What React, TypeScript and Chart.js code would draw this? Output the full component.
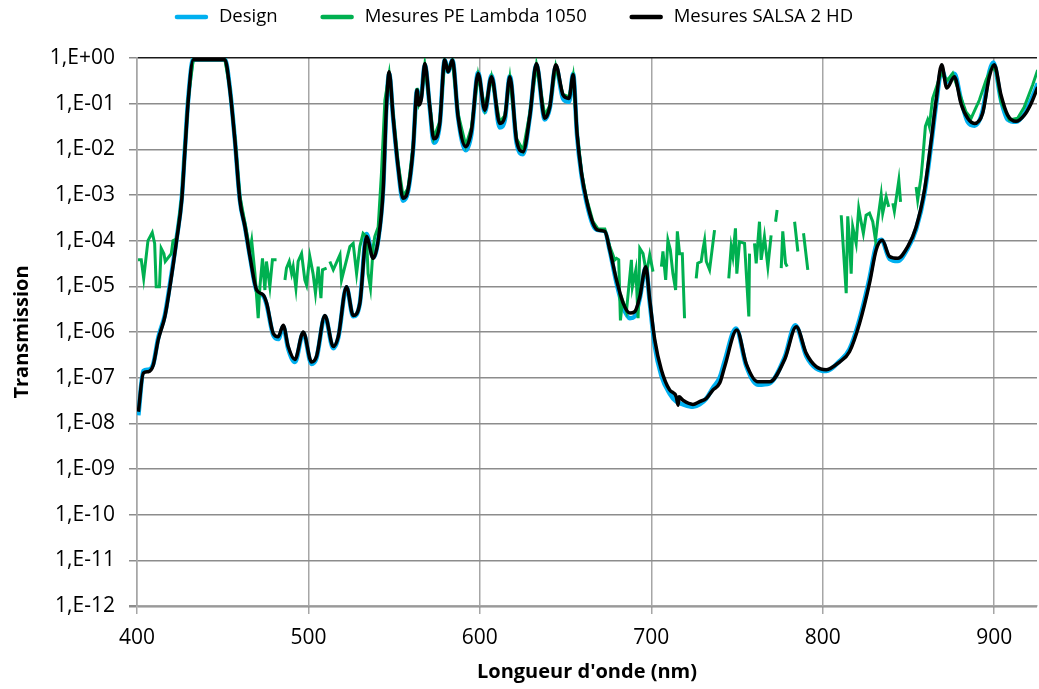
import React, { useEffect, useRef } from "react";
import { Chart, registerables } from "chart.js";

Chart.register(...registerables);

// ---- Data (wavelength in nm, transmission) ----
const designWl = [400.8, 403.7, 406.6, 409.5, 412.4, 416.3, 419.2, 423.1, 426.1, 428.0, 429.9, 432.8, 440, 451.3, 454.2, 457.1, 460.0, 463.0, 465.9, 469.8, 473.6, 475.6, 479.5, 482.4, 485.3, 488.2, 492.1, 497.0, 501.8, 504.7, 509.6, 514.5, 517.4, 522.2, 526.1, 530.0, 533.9, 537.8, 540.7, 543.6, 545.5, 547.1, 549.4, 552.3, 555.2, 558.1, 561.0, 563.4, 564.5, 565.9, 567.9, 570.8, 573.1, 576.6, 579.5, 581.5, 584.0, 587.3, 591.8, 595.1, 599.0, 602.9, 606.8, 611.6, 614.6, 617.5, 621.4, 625.2, 629.1, 633.0, 637.9, 640.8, 644.3, 648.5, 652.0, 654.4, 656.7, 659.3, 662.2, 666.0, 669.0, 672.9, 675.8, 679.7, 683.6, 687.5, 690.4, 693.3, 696.8, 699.1, 702.0, 705.9, 710.7, 714.6, 718.5, 724.3, 728.2, 732.1, 736.0, 739.9, 742.8, 749.4, 755.4, 762.2, 769.0, 777.8, 784.0, 790.4, 796.2, 802.1, 809.8, 815.6, 821.5, 827.3, 831.2, 834.2, 839.0, 843.8, 849.6, 854.5, 859.4, 863.3, 866.2, 869.4, 872.4, 876.8, 880.7, 884.6, 888.5, 893.3, 897.2, 899.5, 904.0, 907.9, 912.8, 917.6, 921.5, 925.4];
const designT = [1.5e-8, 1.4e-7, 1.5e-7, 2.0e-7, 7.5e-7, 2.4e-6, 1.1e-5, 1.1e-4, 8.5e-4, 0.011, 0.13, 0.93, 0.93, 0.93, 0.21, 0.016, 7.8e-4, 2.0e-4, 4.5e-5, 8.0e-6, 6.2e-6, 4.0e-6, 8.5e-7, 7.0e-7, 1.3e-6, 4.3e-7, 2.2e-7, 9.5e-7, 2.0e-7, 2.7e-7, 2.2e-6, 4.4e-7, 7.5e-7, 9.5e-6, 2.2e-6, 4.3e-6, 1.4e-4, 4.3e-5, 1.05e-4, 1.4e-3, 0.09, 0.45, 0.05, 4.0e-3, 7.5e-4, 1.2e-3, 9.5e-3, 0.2, 0.1, 0.15, 0.7, 0.08, 0.014, 0.035, 0.9, 0.5, 0.9, 0.05, 0.0095, 0.022, 0.48, 0.065, 0.42, 0.03, 0.045, 0.4, 0.014, 7.8e-3, 0.05, 0.7, 0.045, 0.08, 0.65, 0.13, 0.11, 0.45, 0.02, 2.7e-3, 7.0e-4, 2.2e-4, 1.7e-4, 1.6e-4, 6.0e-5, 1.2e-5, 3.5e-6, 2.0e-6, 2.2e-6, 5.5e-6, 2.6e-5, 4.5e-6, 5.0e-7, 1.1e-7, 4.5e-8, 3.0e-8, 2.6e-8, 2.3e-8, 2.6e-8, 3.5e-8, 6.0e-8, 1.0e-7, 2.3e-7, 1.2e-6, 1.8e-7, 7.0e-8, 7.5e-8, 2.8e-7, 1.4e-6, 3.0e-7, 1.6e-7, 1.4e-7, 2.3e-7, 4.2e-7, 1.9e-6, 1.5e-5, 8.0e-5, 1.05e-4, 4.0e-5, 3.6e-5, 6.8e-5, 1.8e-4, 1.1e-3, 0.013, 0.1, 0.55, 0.3, 0.45, 0.12, 0.04, 0.033, 0.07, 0.5, 0.8, 0.12, 0.045, 0.04, 0.06, 0.12, 0.28];

const lambdaWl = [400.6, 402.5, 403.9, 406.4, 408.9, 410.3, 411.2, 413.1, 414.1, 415.7, 416.5, 420.0, 421.0, 423.1, 426.1, 428.0, 429.9, 432.8, 440, 451.3, 454.2, 457.1, 460.0, 463.0, 465.9, 466.9, 468.8, 470.7, 471.7, 473.2, 474.6, 475.5, 477.5, 479.0, 481.4, 483.5, 486.3, 487.2, 488.8, 490.2, 491.1, 492.7, 494.0, 496.0, 497.9, 498.9, 500.8, 502.7, 504.1, 505.7, 507.3, 508.2, 510.6, 511.5, 512.5, 514.5, 518.4, 519.3, 524.2, 526.1, 528.1, 530.0, 531.9, 533.9, 534.8, 536.2, 537.8, 538.7, 540.7, 542.6, 544.6, 547.1, 549.4, 552.3, 555.2, 558.1, 561.0, 563.4, 564.5, 565.9, 567.9, 570.8, 573.1, 576.6, 579.5, 581.5, 584.0, 587.3, 591.8, 595.1, 599.0, 602.9, 606.8, 611.6, 614.6, 617.5, 621.4, 625.2, 629.1, 633.0, 637.9, 640.8, 644.3, 648.5, 652.0, 654.4, 656.7, 659.3, 662.2, 666.0, 669.0, 672.9, 675.8, 678.7, 679.7, 681.0, 682.0, 683.2, 685.5, 688.4, 689.0, 691.0, 692.3, 693.3, 695.2, 697.2, 699.1, 701.0, 703.5, 705.9, 706.8, 708.4, 709.7, 711.1, 712.6, 714.2, 715.2, 716.5, 718.1, 719.4, 722.8, 726.2, 727.1, 729.1, 730.1, 731.1, 732.1, 734.0, 736.9, 741.0, 745.2, 746.6, 747.6, 749.1, 749.9, 751.5, 754.4, 756.9, 757.3, 758.8, 760.2, 761.2, 763.1, 764.1, 766.0, 768.0, 769.9, 771.2, 772.5, 773.4, 774.6, 775.8, 776.7, 778.3, 779.3, 781.5, 783.6, 785.5, 787.2, 788.8, 791.3, 801.0, 810.8, 813.7, 814.6, 815.6, 816.6, 817.5, 819.5, 821.0, 822.4, 823.7, 825.3, 827.3, 829.2, 830.8, 832.1, 834.1, 835.0, 837.0, 838.5, 839.7, 840.9, 841.8, 844.4, 845.4, 850.0, 854.5, 855.4, 857.4, 858.3, 859.9, 861.2, 862.2, 864.1, 867.1, 869.0, 872.9, 875.8, 879.7, 883.6, 886.6, 891.4, 895.3, 898.8, 901.2, 904.0, 908.9, 913.7, 917.6, 922.5, 925.4];
const lambdaT = [3.8e-5, 3.8e-5, 1.5e-5, 1.0e-4, 1.5e-4, 8.7e-5, 9.8e-6, 9.8e-6, 6.8e-5, 5.2e-5, 3.5e-5, 5.2e-5, 1.0e-4, 1.1e-4, 9.0e-4, 0.011, 0.13, 0.91, 0.91, 0.91, 0.22, 0.018, 9.5e-4, 2.4e-4, 6.0e-5, 1.0e-4, 1.9e-5, 2.0e-6, 9.8e-6, 4.1e-5, 8.3e-6, 3.5e-5, 9.8e-6, 3.8e-5, 3.8e-5, null, 1.38e-5, 2.5e-5, 3.5e-5, 1.9e-5, 2.7e-5, 9.1e-6, 3.5e-5, 5.2e-5, 1.38e-5, 1.07e-5, 4.5e-5, 1.9e-5, 7.1e-6, 2.7e-5, 5.5e-6, 2.3e-5, 2.5e-5, null, 3.5e-5, 2.3e-5, 4.9e-5, 1.38e-5, 7.4e-5, 8.7e-5, 1.9e-5, 7.4e-5, 1.45e-4, 1.23e-4, 1.9e-5, 9.1e-6, 7.4e-5, 1.23e-4, 2.0e-4, 3.0e-3, 0.12, 0.45, 0.06, 5.0e-3, 9.5e-4, 1.4e-3, 0.011, 0.22, 0.1, 0.14, 0.7, 0.09, 0.018, 0.04, 0.88, 0.55, 0.88, 0.06, 0.012, 0.03, 0.42, 0.08, 0.38, 0.04, 0.055, 0.36, 0.017, 9.5e-3, 0.06, 0.7, 0.055, 0.09, 0.66, 0.16, 0.14, 0.4, 0.024, 3.2e-3, 8.5e-4, 2.6e-4, 1.8e-4, 1.8e-4, 7.4e-5, 3.8e-5, 4.1e-5, 3.8e-5, 1.8e-6, 5.0e-6, 2.8e-6, 3.8e-5, 9.8e-6, 2.3e-5, 2.0e-6, 6.8e-5, 5.2e-5, 1.9e-5, 4.9e-5, 2.1e-5, null, 2.7e-5, 5.8e-5, 1.38e-5, 1.02e-4, 6.3e-5, 1.9e-5, 8.3e-6, 1.6e-4, 5.2e-5, 5.2e-5, 2.0e-6, null, 1.5e-5, 3.2e-5, 3.5e-5, 6.3e-5, 1.02e-4, 3.5e-5, 2.3e-5, 1.7e-4, null, 1.5e-5, 7.4e-5, 4.5e-5, 1.86e-4, 1.9e-5, 9.5e-5, 8.7e-5, 2.2e-6, 5.2e-5, null, 8.7e-5, 3.2e-5, 2.6e-4, 3.8e-5, 1.23e-4, 2.7e-5, 1.3e-4, null, 2.6e-4, 4.7e-4, null, 2.5e-5, 1.6e-4, 3.2e-5, 2.7e-5, null, 2.6e-4, 5.8e-5, null, 1.45e-4, 2.3e-5, null, 3.6e-4, 7.1e-6, 3.4e-4, 1.02e-4, 1.9e-5, 2.0e-4, 8.7e-5, 5.1e-4, 2.6e-4, 1.45e-4, 3.6e-4, 4.0e-4, 2.6e-4, 1.02e-4, 2.8e-4, 1.0e-3, 4.0e-4, 9.1e-4, 5.5e-4, null, 6.6e-4, 4.4e-4, 2.1e-3, 7.1e-4, null, 1.5e-3, 7.8e-4, 2.5e-3, 5.9e-3, 0.032, 0.044, 0.032, 0.13, 0.28, 0.46, 0.33, 0.46, 0.17, 0.066, 0.048, 0.12, 0.33, 0.65, 0.5, 0.11, 0.044, 0.048, 0.085, 0.26, 0.55];

const salsaWl = [400.8, 403.7, 406.6, 409.5, 412.4, 416.3, 419.2, 423.1, 426.1, 428.0, 429.9, 432.8, 440, 451.3, 454.2, 457.1, 460.0, 463.0, 465.9, 469.8, 473.6, 475.6, 479.5, 482.4, 485.3, 488.2, 492.1, 497.0, 501.8, 504.7, 509.6, 514.5, 517.4, 522.2, 526.1, 530.0, 533.9, 537.8, 540.7, 543.6, 545.5, 547.1, 549.4, 552.3, 555.2, 558.1, 561.0, 563.4, 564.5, 565.9, 567.9, 570.8, 573.1, 576.6, 579.5, 581.5, 584.0, 587.3, 591.8, 595.1, 599.0, 602.9, 606.8, 611.6, 614.6, 617.5, 621.4, 625.2, 629.1, 633.0, 637.9, 640.8, 644.3, 648.5, 652.0, 654.4, 656.7, 659.3, 662.2, 666.0, 669.0, 672.9, 675.8, 679.7, 683.6, 687.5, 690.4, 693.3, 696.8, 699.1, 702.0, 705.9, 710.7, 714.6, 715.6, 716.2, 718.5, 724.3, 728.2, 732.1, 736.0, 739.9, 742.8, 749.9, 755.4, 762.2, 769.0, 777.8, 784.6, 790.4, 796.2, 802.1, 809.8, 815.6, 821.5, 827.3, 831.2, 834.7, 839.0, 843.8, 849.6, 854.5, 859.4, 863.3, 866.2, 869.4, 872.4, 876.8, 880.7, 884.6, 888.5, 893.3, 897.2, 900.1, 904.0, 907.9, 912.8, 917.6, 921.5, 925.4];
const salsaT = [1.8e-8, 1.26e-7, 1.35e-7, 1.9e-7, 6.8e-7, 2.2e-6, 9.8e-6, 1.02e-4, 7.8e-4, 9.8e-3, 0.12, 0.91, 0.92, 0.91, 0.2, 0.0158, 7.8e-4, 2.0e-4, 4.5e-5, 8.3e-6, 6.5e-6, 4.3e-6, 9.3e-7, 7.9e-7, 1.4e-6, 4.8e-7, 2.5e-7, 1.0e-6, 2.2e-7, 2.9e-7, 2.3e-6, 4.8e-7, 7.9e-7, 9.8e-6, 2.3e-6, 4.3e-6, 1.23e-4, 4.1e-5, 1.02e-4, 1.3e-3, 0.085, 0.5, 0.052, 4.2e-3, 8.5e-4, 1.3e-3, 9.8e-3, 0.2, 0.093, 0.13, 0.76, 0.085, 0.017, 0.037, 0.91, 0.5, 0.91, 0.052, 0.0115, 0.026, 0.46, 0.072, 0.39, 0.037, 0.052, 0.39, 0.0158, 8.9e-3, 0.052, 0.76, 0.048, 0.085, 0.71, 0.155, 0.13, 0.43, 0.022, 3.0e-3, 7.8e-4, 2.4e-4, 1.7e-4, 1.6e-4, 6.3e-5, 1.38e-5, 4.3e-6, 2.6e-6, 2.8e-6, 5.9e-6, 2.7e-5, 5.0e-6, 6.8e-7, 1.48e-7, 5.4e-8, 3.8e-8, 2.5e-8, 3.8e-8, 3.2e-8, 2.6e-8, 3.0e-8, 3.5e-8, 5.4e-8, 7.6e-8, 1.74e-7, 1.1e-6, 2.0e-7, 8.1e-8, 8.1e-8, 2.5e-7, 1.3e-6, 3.4e-7, 1.74e-7, 1.5e-7, 2.2e-7, 3.7e-7, 1.55e-6, 1.17e-5, 6.3e-5, 1.02e-4, 4.5e-5, 4.1e-5, 7.4e-5, 2.0e-4, 1.3e-3, 0.0158, 0.12, 0.71, 0.22, 0.39, 0.1, 0.048, 0.037, 0.062, 0.39, 0.71, 0.155, 0.056, 0.041, 0.056, 0.1, 0.23];

const xTicks = [400, 500, 600, 700, 800, 900];
const yExponents = [0, -1, -2, -3, -4, -5, -6, -7, -8, -9, -10, -11, -12];

const seriesNames = ["Design", "Mesures PE Lambda 1050", "Mesures SALSA 2 HD"];
const seriesColors = ["#00b0f0", "#00b050", "#000000"];

const toPoints = (xs: number[], ys: (number | null)[]) => xs.map((x, i) => ({ x, y: ys[i] }));

const FONT = '"Open Sans", "DejaVu Sans", sans-serif';

const legendPlugin = {
  id: "topLegend",
  afterDraw(chart: any) {
    const ctx = chart.ctx;
    ctx.save();
    ctx.font = `18.5px ${FONT}`;
    ctx.textBaseline = "middle";
    const box = 33;
    const gap = 11;
    const itemGap = 43;
    const widths = seriesNames.map((t) => ctx.measureText(t).width);
    const total = widths.reduce((a, w) => a + box + gap + w, 0) + itemGap * (seriesNames.length - 1);
    let x = 514 - total / 2;
    const y = 17;
    seriesNames.forEach((t, i) => {
      ctx.strokeStyle = seriesColors[i];
      ctx.lineWidth = 4.5;
      ctx.lineCap = "round";
      ctx.beginPath();
      ctx.moveTo(x + 2, y);
      ctx.lineTo(x + box - 2, y);
      ctx.stroke();
      ctx.fillStyle = "#000";
      ctx.fillText(t, x + box + gap, y);
      x += box + gap + widths[i] + itemGap;
    });
    ctx.restore();
  },
};

export default function App() {
  const canvasRef = useRef<HTMLCanvasElement | null>(null);

  useEffect(() => {
    document.body.style.margin = "0";
    const canvas = canvasRef.current;
    if (!canvas) return;
    const chart = new Chart(canvas, {
      type: "line",
      data: {
        datasets: [
          {
            label: seriesNames[0],
            data: toPoints(designWl, designT),
            borderColor: seriesColors[0],
            backgroundColor: seriesColors[0],
            borderWidth: 4.5,
            pointRadius: 0,
            cubicInterpolationMode: "monotone",
            order: 3,
          },
          {
            label: seriesNames[1],
            data: toPoints(lambdaWl, lambdaT),
            borderColor: seriesColors[1],
            backgroundColor: seriesColors[1],
            borderWidth: 3,
            pointRadius: 0,
            spanGaps: false,
            order: 2,
          },
          {
            label: seriesNames[2],
            data: toPoints(salsaWl, salsaT),
            borderColor: seriesColors[2],
            backgroundColor: seriesColors[2],
            borderWidth: 3.5,
            pointRadius: 0,
            cubicInterpolationMode: "monotone",
            order: 1,
          },
        ],
      },
      options: {
        animation: false,
        responsive: false,
        maintainAspectRatio: false,
        layout: { padding: { top: 58, right: 2, left: 0, bottom: 0 } },
        plugins: {
          legend: { display: false },
          tooltip: { enabled: false },
        },
        scales: {
          x: {
            type: "linear",
            min: 400,
            max: 925,
            afterFit: (scale: any) => {
              scale.height = 83;
            },
            afterBuildTicks: (scale: any) => {
              scale.ticks = xTicks.map((v) => ({ value: v }));
            },
            ticks: {
              color: "#000",
              font: { family: FONT, size: 21 },
              padding: 11,
              maxRotation: 0,
            },
            grid: {
              color: "#a6a6a6",
              lineWidth: 1.5,
              tickLength: 8,
              tickColor: "#a6a6a6",
            },
            border: { color: "#a6a6a6", width: 1.5 },
            title: {
              display: true,
              text: "Longueur d'onde (nm)",
              color: "#000",
              font: { family: FONT, size: 20, weight: "bold" },
              padding: { top: 0, bottom: 5 },
            },
          },
          y: {
            type: "logarithmic",
            min: 1e-12,
            max: 1,
            afterFit: (scale: any) => {
              scale.width = 137;
            },
            afterBuildTicks: (scale: any) => {
              scale.ticks = yExponents.map((e) => ({ value: Math.pow(10, e) }));
            },
            ticks: {
              color: "#000",
              font: { family: FONT, size: 21 },
              padding: 14,
              callback: (value: any) => {
                const e = Math.round(Math.log10(Number(value)));
                const a = Math.abs(e);
                return "1,E" + (e < 0 ? "-" : "+") + (a < 10 ? "0" + a : String(a));
              },
            },
            grid: {
              color: (ctx: any) => {
                const v = ctx.tick ? ctx.tick.value : 0;
                if (v === 1) return "#1a1a1a";
                return "#8c8c8c";
              },
              lineWidth: (ctx: any) => {
                const v = ctx.tick ? ctx.tick.value : 0;
                if (v === 1e-12) return 2.5;
                return 1.5;
              },
              tickLength: 8,
              tickColor: "#8c8c8c",
            },
            border: { color: "#a6a6a6", width: 1.5 },
            title: {
              display: true,
              text: "Transmission",
              color: "#000",
              font: { family: FONT, size: 20, weight: "bold" },
              padding: { top: 10, bottom: 0 },
            },
          },
        },
      },
      plugins: [legendPlugin],
    } as any);
    return () => chart.destroy();
  }, []);

  return (
    <div style={{ width: 1039, height: 689, position: "relative", background: "#fff" }}>
      <canvas ref={canvasRef} width={1039} height={689} style={{ display: "block" }} />
    </div>
  );
}
